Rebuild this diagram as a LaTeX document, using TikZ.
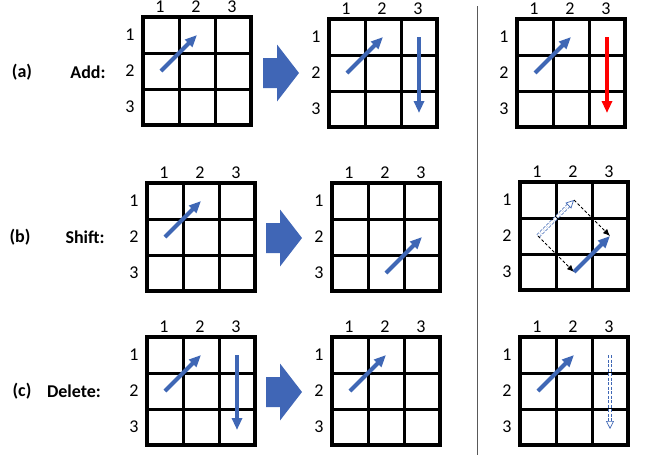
\documentclass[tikz,border=0pt]{standalone}
\usepackage{fontspec}
\setmainfont{Carlito}
\usetikzlibrary{arrows.meta}
\definecolor{arrowblue}{HTML}{3F67B5}
\definecolor{blockblue}{HTML}{4066B6}
\definecolor{sepgray}{HTML}{595959}
\tikzset{
  lab/.style={inner sep=0pt, font=\fontsize{18}{20}\selectfont},
  rowlab/.style={inner sep=0pt, font=\bfseries\fontsize{18}{20}\selectfont},
  gridline/.style={line width=3pt, line cap=rect},
  vecarrow/.style={draw=arrowblue, line width=4pt, -{Triangle[length=12pt,width=10pt]}},
  redarrow/.style={draw=red, line width=4.5pt, -{Triangle[length=12pt,width=10pt]}},
  ghostarrow/.style={draw=arrowblue, line width=0.7pt, double=white, double distance=2.6pt,
    dash pattern=on 3pt off 1.5pt, -{Triangle[open,length=8pt,width=8pt]}},
  moveline/.style={draw=black, line width=0.8pt, dash pattern=on 3pt off 2pt,
    -{Latex[length=7pt,width=6pt]}},
  gridbox/.pic={
    \foreach \i in {1,2} {
      \draw[gridline] (36*\i,0) -- (36*\i,108);
      \draw[gridline] (0,36*\i) -- (108,36*\i);
    }
    \draw[line width=3.5pt] (0,0) rectangle (108,108);
    \node[lab] (-c1) at (17,-10) {1};
    \node[lab] (-c2) at (53,-10) {2};
    \node[lab] (-c3) at (89,-10) {3};
    \node[lab] (-r1) at (-13,18) {1};
    \node[lab] (-r2) at (-13,54) {2};
    \node[lab] (-r3) at (-13,90) {3};
    \foreach \r in {1,2,3} {
      \foreach \c in {1,2,3} {
        \coordinate (-r\r c\c) at (36*\c-18,36*\r-18);
      }
    }
  },
  blockarrow/.pic={
    \fill[blockblue] (0,0) -- (-22,-28.5) -- (-22,-15) -- (-36,-15) -- (-36,15)
      -- (-22,15) -- (-22,28.5) -- cycle;
  }
}
\begin{document}
\begin{tikzpicture}[x=1pt,y=-1pt]
\useasboundingbox (0,0) rectangle (647,459);

% separator
\coordinate (septop) at (477,6);
\coordinate (sepbot) at (477,455);
\draw[sepgray, line width=1pt] (septop) -- (sepbot);

% row labels
\node[rowlab] (la) at (22,72) {(a)};
\node[rowlab] (ladd) at (88,72) {Add:};
\node[rowlab] (lb) at (20,237) {(b)};
\node[rowlab] (lshift) at (85,237) {Shift:};
\node[rowlab] (lc) at (22,391) {(c)};
\node[rowlab] (ldel) at (74,391) {Delete:};

% grids
\pic (ga1) at (143,17) {gridbox};
\pic (ga2) at (329,19) {gridbox};
\pic (ga3) at (517,19) {gridbox};
\pic (gb1) at (147,183) {gridbox};
\pic (gb2) at (332,183) {gridbox};
\pic (gb3) at (520,182) {gridbox};
\pic (gc1) at (147,337) {gridbox};
\pic (gc2) at (332,337) {gridbox};
\pic (gc3) at (520,337) {gridbox};

% block arrows
\pic at (299,73) {blockarrow};
\pic at (302,238) {blockarrow};
\pic at (302,392) {blockarrow};

% (a)
\draw[vecarrow] (ga1-r2c1) -- (ga1-r1c2);
\draw[vecarrow] (ga2-r2c1) -- (ga2-r1c2);
\draw[vecarrow, shorten >=-4pt] (ga2-r1c3) -- (ga2-r3c3);
\draw[vecarrow] (ga3-r2c1) -- (ga3-r1c2);
\draw[redarrow, shorten >=-4pt] (ga3-r1c3) -- (ga3-r3c3);

% (b)
\draw[vecarrow] (gb1-r2c1) -- (gb1-r1c2);
\draw[vecarrow] (gb2-r3c2) -- (gb2-r2c3);
\draw[ghostarrow] (gb3-r2c1) -- (gb3-r1c2);
\draw[moveline] (gb3-r1c2) -- (gb3-r2c3);
\draw[moveline] (gb3-r2c1) -- (gb3-r3c2);
\draw[vecarrow] (gb3-r3c2) -- (gb3-r2c3);

% (c)
\draw[vecarrow] (gc1-r2c1) -- (gc1-r1c2);
\draw[vecarrow, shorten >=-3pt] (gc1-r1c3) -- (gc1-r3c3);
\draw[vecarrow] (gc2-r2c1) -- (gc2-r1c2);
\draw[vecarrow] (gc3-r2c1) -- (gc3-r1c2);
\draw[ghostarrow, shorten >=-2pt] (gc3-r1c3) -- (gc3-r3c3);
\end{tikzpicture}
\end{document}
